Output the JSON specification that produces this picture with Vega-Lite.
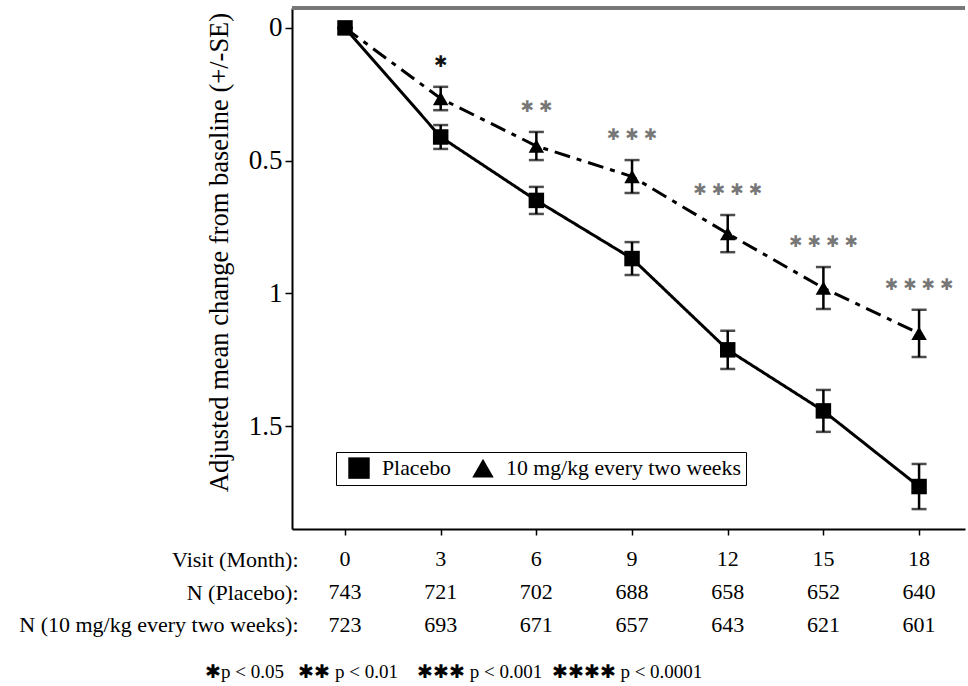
{
  "$schema": "https://vega.github.io/schema/vega-lite/v6.json",
  "padding": {"left": 18, "top": 6, "right": 3, "bottom": 3},
  "config": {"view": {"stroke": null}, "font": "Liberation Serif"},
  "spacing": 7,
  "resolve": {"scale": {"shape": "independent", "color": "independent", "strokeDash": "independent"}, "legend": {"shape": "independent"}},
  "datasets": {
    "main": [
      {"month": 0, "group": "Placebo", "mean": 0, "lo": 0, "hi": 0},
      {"month": 3, "group": "Placebo", "mean": 0.411, "lo": 0.366, "hi": 0.456},
      {"month": 6, "group": "Placebo", "mean": 0.65, "lo": 0.599, "hi": 0.701},
      {"month": 9, "group": "Placebo", "mean": 0.869, "lo": 0.807, "hi": 0.931},
      {"month": 12, "group": "Placebo", "mean": 1.213, "lo": 1.141, "hi": 1.285},
      {"month": 15, "group": "Placebo", "mean": 1.443, "lo": 1.364, "hi": 1.522},
      {"month": 18, "group": "Placebo", "mean": 1.728, "lo": 1.643, "hi": 1.813},
      {"month": 0, "group": "10 mg/kg every two weeks", "mean": 0, "lo": 0, "hi": 0},
      {"month": 3, "group": "10 mg/kg every two weeks", "mean": 0.266, "lo": 0.222, "hi": 0.31, "sig": "✱", "level": 1},
      {"month": 6, "group": "10 mg/kg every two weeks", "mean": 0.445, "lo": 0.392, "hi": 0.498, "sig": "✱ ✱", "level": 2},
      {"month": 9, "group": "10 mg/kg every two weeks", "mean": 0.56, "lo": 0.498, "hi": 0.622, "sig": "✱ ✱ ✱", "level": 3},
      {"month": 12, "group": "10 mg/kg every two weeks", "mean": 0.775, "lo": 0.705, "hi": 0.845, "sig": "✱ ✱ ✱ ✱", "level": 4},
      {"month": 15, "group": "10 mg/kg every two weeks", "mean": 0.98, "lo": 0.901, "hi": 1.059, "sig": "✱ ✱ ✱ ✱", "level": 4},
      {"month": 18, "group": "10 mg/kg every two weeks", "mean": 1.151, "lo": 1.062, "hi": 1.24, "sig": "✱ ✱ ✱ ✱", "level": 4}
    ],
    "table": [
      {"month": 0, "row": "Visit (Month):", "value": "0"},
      {"month": 3, "row": "Visit (Month):", "value": "3"},
      {"month": 6, "row": "Visit (Month):", "value": "6"},
      {"month": 9, "row": "Visit (Month):", "value": "9"},
      {"month": 12, "row": "Visit (Month):", "value": "12"},
      {"month": 15, "row": "Visit (Month):", "value": "15"},
      {"month": 18, "row": "Visit (Month):", "value": "18"},
      {"month": 0, "row": "N (Placebo):", "value": "743"},
      {"month": 3, "row": "N (Placebo):", "value": "721"},
      {"month": 6, "row": "N (Placebo):", "value": "702"},
      {"month": 9, "row": "N (Placebo):", "value": "688"},
      {"month": 12, "row": "N (Placebo):", "value": "658"},
      {"month": 15, "row": "N (Placebo):", "value": "652"},
      {"month": 18, "row": "N (Placebo):", "value": "640"},
      {"month": 0, "row": "N (10 mg/kg every two weeks):", "value": "723"},
      {"month": 3, "row": "N (10 mg/kg every two weeks):", "value": "693"},
      {"month": 6, "row": "N (10 mg/kg every two weeks):", "value": "671"},
      {"month": 9, "row": "N (10 mg/kg every two weeks):", "value": "657"},
      {"month": 12, "row": "N (10 mg/kg every two weeks):", "value": "643"},
      {"month": 15, "row": "N (10 mg/kg every two weeks):", "value": "621"},
      {"month": 18, "row": "N (10 mg/kg every two weeks):", "value": "601"}
    ]
  },
  "vconcat": [
    {
      "width": 673,
      "height": 521,
      "data": {"name": "main"},
      "encoding": {
        "x": {"field": "month", "type": "quantitative",
              "scale": {"domain": [-1.662, 19.44], "nice": false, "zero": false},
              "axis": {"orient": "bottom", "values": [0, 3, 6, 9, 12, 15, 18], "labels": false, "title": null, "grid": false,
                       "domainColor": "black", "domainWidth": 2, "tickColor": "black", "tickWidth": 1.5, "tickSize": 6}}
      },
      "layer": [
        {
          "mark": {"type": "line", "color": "black", "strokeWidth": 3},
          "encoding": {
            "y": {"field": "mean", "type": "quantitative", "title": "Adjusted mean change from baseline (+/-SE)",
                  "scale": {"domain": [-0.075, 1.888], "reverse": true, "nice": false, "zero": false},
                  "axis": {"values": [0, 0.5, 1, 1.5], "format": "~g", "grid": false,
                           "labelFont": "Liberation Serif", "labelFontSize": 27, "labelColor": "black", "labelPadding": 3,
                           "tickSize": 7, "tickColor": "black", "tickWidth": 1.5, "domainColor": "black", "domainWidth": 2,
                           "titleFont": "Liberation Serif", "titleFontSize": 26.5, "titleFontWeight": "normal", "titleColor": "black",
                           "titlePadding": 15, "titleY": 244}},
            "strokeDash": {"field": "group", "type": "nominal",
                           "scale": {"domain": ["10 mg/kg every two weeks", "Placebo"], "range": [[16, 7, 5, 7], [1, 0]]},
                           "legend": null}
          }
        },
        {
          "mark": {"type": "rule", "color": "#777777", "strokeWidth": 2.5},
          "encoding": {
            "y": {"datum": -0.075, "type": "quantitative", "title": "Adjusted mean change from baseline (+/-SE)"},
            "x": {"value": 0},
            "x2": {"value": 673}
          }
        },
        {
          "mark": {"type": "errorbar", "color": "black", "thickness": 2.5, "ticks": {"size": 15, "thickness": 2.5, "color": "black"}},
          "encoding": {
            "y": {"field": "lo", "type": "quantitative", "title": "Adjusted mean change from baseline (+/-SE)"},
            "y2": {"field": "hi"},
            "detail": {"field": "group"}
          }
        },
        {
          "mark": {"type": "point", "filled": true, "size": 240, "opacity": 1, "color": "black"},
          "encoding": {
            "y": {"field": "mean", "type": "quantitative", "title": "Adjusted mean change from baseline (+/-SE)"},
            "shape": {"field": "group", "type": "nominal",
                      "scale": {"domain": ["Placebo", "10 mg/kg every two weeks"], "range": ["square", "triangle-up"]},
                      "legend": {"orient": "bottom-left", "offset": 44, "direction": "horizontal", "title": null,
                                 "symbolSize": 460, "symbolFillColor": "black", "symbolStrokeColor": "black", "symbolStrokeWidth": 0,
                                 "symbolOffset": 7,
                                 "labelFont": "Liberation Serif", "labelFontSize": 21.8, "labelColor": "black", "labelLimit": 400,
                                 "padding": 5, "strokeColor": "black", "columnPadding": 14, "labelOffset": 12,
                                 "encode": {"legend": {"update": {"strokeWidth": {"value": 2}}}}}}
          }
        },
        {
          "transform": [{"filter": "isValid(datum.sig)"}],
          "mark": {"type": "text", "font": "DejaVu Sans", "fontSize": 16, "baseline": "middle", "align": "center", "dy": -25},
          "encoding": {
            "y": {"field": "lo", "type": "quantitative", "title": "Adjusted mean change from baseline (+/-SE)"},
            "text": {"field": "sig"},
            "color": {"field": "level", "type": "ordinal",
                      "scale": {"domain": [1, 2, 3, 4], "range": ["#111111", "#777777", "#777777", "#777777"]},
                      "legend": null}
          }
        }
      ]
    },
    {
      "width": 673,
      "height": 98,
      "data": {"name": "table"},
      "mark": {"type": "text", "font": "Liberation Serif", "fontSize": 22, "baseline": "middle", "align": "center", "color": "black"},
      "encoding": {
        "x": {"field": "month", "type": "quantitative",
              "scale": {"domain": [-1.662, 19.44], "nice": false, "zero": false}, "axis": null},
        "y": {"field": "row", "type": "nominal",
              "sort": ["Visit (Month):", "N (Placebo):", "N (10 mg/kg every two weeks):"],
              "scale": {"padding": 0.5},
              "axis": {"title": null, "domain": false, "ticks": false, "tickSize": 0, "labelPadding": -6, "labelLimit": 500,
                       "labelFont": "Liberation Serif", "labelFontSize": 22, "labelColor": "black"}},
        "text": {"field": "value"}
      },
      "title": {"text": "✱p < 0.05\u00a0\u00a0\u00a0✱✱ p < 0.01\u00a0\u00a0\u00a0\u00a0✱✱✱ p < 0.001\u00a0\u00a0✱✱✱✱ p < 0.0001",
                "orient": "bottom", "anchor": "start", "frame": "group", "dx": -87, "offset": 22,
                "font": "Liberation Serif", "fontSize": 19, "fontWeight": "normal", "color": "black"}
    }
  ]
}
